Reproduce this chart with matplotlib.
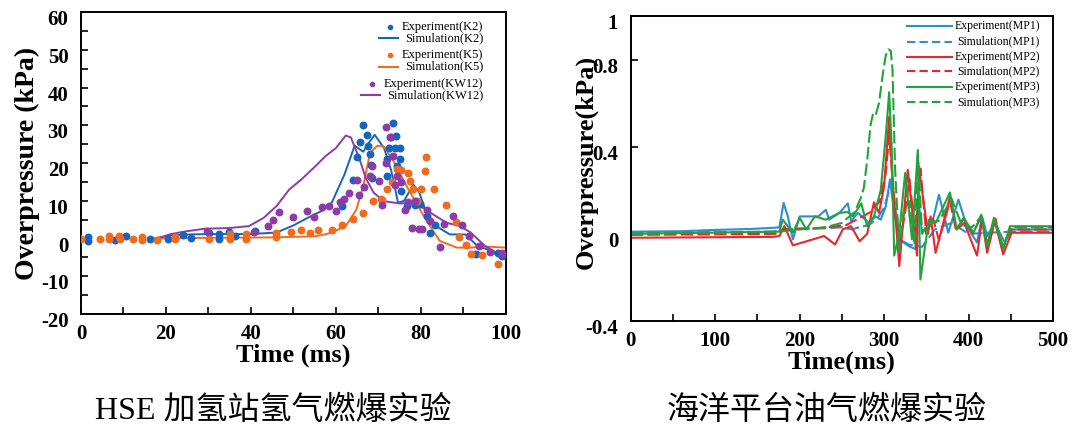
import matplotlib

matplotlib.use("Agg")
import matplotlib.pyplot as plt
from matplotlib.ticker import MultipleLocator
from matplotlib.transforms import ScaledTranslation

plt.rcParams["axes.unicode_minus"] = False

SERIF = "Liberation Serif"
CAPTION_FONTS = ["Liberation Serif", "Noto Sans CJK SC"]

# ---- left panel: HSE hydrogen station ----
k2_exp_t = [1.6, 1.6, 8.1, 10.6, 16.3, 20.5, 24, 25.9, 30.2, 32.4, 32.4, 34.8, 36.3, 40.9,
            61.4, 64, 65, 65.6, 66.3, 67.4, 67.6, 67.9, 68.2, 68.5, 72, 72, 72.5, 73.3,
            72.9, 74.2, 74, 74.4, 75, 75, 75.2, 76.6, 78.6, 79.7, 81.3, 82.2, 83.4, 92.9,
            98.2, 99]
k2_exp_p = [0.5, -0.6, -0.4, 0.7, -0.2, -0.2, 1, 0.2, 1.6, 1.3, 0, 1.8, 0.7, 2,
            8.6, 15.6, 21.6, 25.7, 30.2, 27.5, 24.4, 22.5, 19.6, 16, 16.7, 21, 23.9, 30.7,
            27, 27.2, 24, 19.1, 24, 21, 12.7, 8.6, 8.8, 9.2, 6.1, 1.6, 3.7, -4.2,
            -3.9, -4.6]
k2_sim_t = [17, 22, 30, 40, 46, 50, 54.2, 57, 59, 62, 64.4, 66.4, 67.5, 69.1, 71.3, 73,
            74.6, 76, 78.2, 79.5, 81.5, 84, 86.8, 90.5, 93.3, 96, 98.2, 100]
k2_sim_p = [0, 1, 1.2, 1.2, 1.6, 3.5, 6, 7.5, 9.5, 17, 24.6, 23, 25, 27.5, 24, 18,
            9.5, 10, 14.3, 12.5, 6, 3, 1.1, 1.1, -2, -3, -4.6, -4.5]

k5_exp_t = [0, 4.5, 6.5, 6.5, 9, 9.2, 12.2, 14.3, 14.3, 17.9, 22.2, 22.2, 30.2, 35, 35,
            38.9, 38.9, 46, 46, 49.3, 51.8, 53.8, 55.7, 59, 61.5, 64, 66.4, 68.7, 70.5,
            70.9, 72.1, 73.2, 74.4, 75.2, 77, 77.3, 78.1, 79.1, 79.9, 80.9, 81.1, 83,
            85.8, 88.2, 89, 90.5, 91.7, 94.4, 98.2]
k5_exp_p = [0, -0.2, 0.7, 0, 0.7, -0.2, -0.2, 0.4, -0.4, -0.4, 0, 0.5, 0, 1.1, 0,
            1.3, 0, 1.6, 0.3, 1.8, 2.2, 1.6, 2.2, 2.2, 3.5, 5.1, 6.8, 9.9, 10.5,
            10.1, 13.2, 14.9, 18.4, 18.1, 17.4, 15.2, 13.2, 9.9, 13.2, 17.8, 21.5, 13.2,
            8.9, 4.4, 0.3, -1.8, -4.2, -4.4, -6.8]
k5_sim_t = [18, 30, 45, 55, 57, 59, 62.3, 64.8, 66.4, 68, 69.7, 71.3, 73.8, 76.6, 81.1,
            84.4, 88.4, 91.7, 95, 100]
k5_sim_p = [0, 0.2, 0.3, 0.6, 1.0, 1.6, 3.3, 7.7, 13.9, 22.6, 24.6, 24.4, 20, 13.9, 5.1,
            -0.6, -2.4, -2.4, -2.1, -2.4]

kw12_exp_t = [29.7, 40.8, 43.9, 45.2, 46.7, 50, 53.1, 54.9, 56.6, 58.3, 59.9, 61, 61.8,
              63, 65, 65.3, 66.6, 67.9, 68.5, 70.1, 70.9, 71.7, 71.7, 72.8, 73.3, 73.8,
              74.4, 75.4, 76.2, 77, 77.8, 78.5, 79.5, 80.3, 81.3, 82.1, 84.4, 85.4,
              87.6, 89.6, 91.4, 93.7, 96.2, 99]
kw12_exp_p = [1.9, 1.8, 3.3, 4.9, 7.1, 5.8, 7.3, 5.8, 8.4, 8.6, 7.3, 9.6, 10.4,
              12.1, 15.4, 11.5, 13.6, 16.5, 19.1, 15.2, 8.8, 29.6, 20, 27, 21.8, 14.3,
              16.5, 14.9, 7.5, 9.6, 2.9, 9.9, 2.5, 2.6, 7.5, 4.6, -2.2, 3.8,
              6, 3.7, 0.7, -1.9, -3.5, -3.9]
kw12_sim_t = [18, 20.8, 24, 29, 35, 39.5, 43, 46, 49, 51.8, 55, 57.5, 60, 62.3, 63.5,
              65.6, 67, 68.9, 71.3, 75, 78.6, 82, 86, 89.2, 91.7, 95, 99, 100]
kw12_sim_p = [0, 1.1, 1.8, 2.6, 2.8, 3.3, 5.5, 8.6, 13, 15.6, 19, 21.8, 24, 27.3, 26.8,
              20.9, 16, 12.1, 9.9, 9.3, 9.5, 7, 4.2, 3.3, 1.6, -1.9, -4.6, -4.8]

# ---- right panel: offshore platform ----
mp1_exp_t = [0, 60, 100, 140, 170, 176, 181, 186, 192, 200, 222, 231, 235, 247, 257, 261,
             269, 282, 290, 296, 302, 307, 312, 318, 329, 337, 341, 345, 357, 365, 376,
             388, 398, 410, 416, 422, 431, 443, 451, 500]
mp1_exp_p = [0.01, 0.012, 0.018, 0.022, 0.028, 0.03, 0.142, 0.08, -0.026, 0.08, 0.08, 0.11,
             0.065, 0.096, 0.14, 0.058, 0.096, 0.05, 0.08, 0.065, 0.126, 0.25, 0.096,
             -0.026, -0.056, -0.07, 0.142, 0.005, 0.05, 0.18, 0.005, 0.157, 0.035, -0.04,
             0.08, -0.01, 0.05, -0.04, 0.02, 0.02]
mp1_sim_t = [0, 170, 180, 200, 230, 250, 262, 270, 282, 292, 300, 306, 309, 314, 320, 330,
             345, 360, 380, 400, 450, 500]
mp1_sim_p = [0.005, 0.01, 0.02, 0.025, 0.025, 0.03, 0.02, 0.03, 0.04, 0.07, 0.12, 0.2, 0.24,
             0.1, -0.03, -0.05, -0.06, 0.02, 0.05, 0.0, 0.01, 0.01]

mp2_exp_t = [0, 169, 176, 182, 192, 229, 242, 251, 261, 271, 280, 288, 294, 300, 304, 306,
             310, 318, 328, 339, 341, 352, 355, 361, 378, 386, 395, 410, 416, 422, 431,
             441, 451, 500]
mp2_exp_p = [-0.018, -0.014, -0.01, 0.035, -0.053, -0.01, -0.049, 0.02, 0.035, -0.034, 0.0,
             0.145, 0.096, 0.218, 0.43, 0.537, 0.25, -0.148, 0.294, -0.1, 0.31, 0.0, 0.08,
             -0.087, 0.17, 0.02, 0.05, -0.1, 0.065, -0.087, 0.058, -0.094, 0.005, 0.005]
mp2_sim_t = [0, 175, 180, 220, 255, 270, 284, 295, 302, 306, 309, 313, 318, 325, 330, 337,
             343, 350, 358, 365, 378, 385, 395, 405, 415, 423, 432, 440, 450, 500]
mp2_sim_p = [-0.005, 0.0, 0.02, 0.025, 0.04, 0.07, 0.1, 0.15, 0.28, 0.45, 0.3, 0.1, -0.05,
             0.1, 0.25, 0.0, 0.3, 0.0, 0.07, -0.03, 0.15, 0.02, 0.07, 0.0, 0.08, -0.06,
             0.07, -0.07, 0.02, 0.02]

mp3_exp_t = [0, 176, 180, 192, 200, 208, 218, 231, 247, 257, 263, 273, 280, 288, 296, 302,
             306, 309, 312, 318, 325, 333, 340, 343, 353, 361, 378, 386, 394, 406, 415,
             422, 430, 441, 449, 500]
mp3_exp_p = [0.0, 0.01, 0.065, 0.005, 0.073, 0.02, 0.08, 0.065, 0.096, 0.1, 0.08, 0.14,
             0.035, 0.08, 0.2, 0.45, 0.65, 0.4, -0.1, 0.005, 0.28, -0.025, 0.385, -0.21,
             0.065, 0.05, 0.19, 0.02, 0.073, 0.005, 0.088, -0.056, 0.073, -0.07, 0.035,
             0.035]
mp3_sim_t = [0, 175, 200, 230, 250, 265, 272, 276, 280, 284, 287, 290, 294, 298, 302, 305,
             308, 310, 313, 318, 323, 330, 336, 340, 345, 352, 365, 380, 392, 404, 415,
             422, 431, 441, 450, 500]
mp3_sim_p = [0.0, 0.01, 0.02, 0.03, 0.05, 0.1, 0.16, 0.21, 0.34, 0.5, 0.553, 0.545, 0.6,
             0.72, 0.82, 0.847, 0.84, 0.75, 0.3, -0.08, 0.1, 0.15, -0.05, 0.37, 0.0, 0.05,
             0.06, 0.16, 0.04, 0.03, 0.08, -0.05, 0.07, -0.06, 0.03, 0.03]

right_yticks = [-0.4, 0, 0.4, 0.8, 1.0]
right_yticklabels = ["-0.4", "0", "0.4", "0.8", "1"]

caption_left = "HSE 加氢站氢气燃爆实验"
caption_right = "海洋平台油气燃爆实验"

BLUE_L, ORANGE_L, PURPLE_L = "#1565c0", "#f26b1d", "#8e3ba8"
BLUE_R, RED_R, GREEN_R = "#2b8fd0", "#e8262b", "#22a33a"
DASH = (0, (6, 2))


def style_axes(ax, fig):
    for spine in ax.spines.values():
        spine.set_linewidth(1.4)
    ax.tick_params(which="both", direction="in", length=5, width=1.2,
                   labelsize=15, top=False, right=False)
    ax.tick_params(axis="x", which="both", pad=7)
    ax.tick_params(axis="y", which="both", pad=9)
    # labels in the source sit a few pixels below their ticks
    shift = ScaledTranslation(0, -4 / 72, fig.dpi_scale_trans)
    for lab in ax.get_yticklabels():
        lab.set_transform(lab.get_transform() + shift)
    for lab in ax.get_xticklabels() + ax.get_yticklabels():
        lab.set_fontfamily(SERIF)
        lab.set_fontweight("bold")


def draw_legend(fig, ax, entries, rows_y, text_right, handle, fontsize=9):
    """Legend with right-aligned labels, as in the source figure.

    entries: (label, kind, color, linestyle); kind is "dot" or "line".
    handle: ("follow", gap, length) puts the key just left of its label,
            ("fixed", x0, x1) puts every key in one column.
    """
    renderer = fig.canvas.get_renderer()
    to_axes = ax.transAxes.inverted()
    for (label, kind, color, ls), y in zip(entries, rows_y):
        txt = ax.text(text_right, y, label, transform=ax.transAxes, ha="right",
                      va="center", fontsize=fontsize, family=SERIF)
        if handle[0] == "follow":
            left = txt.get_window_extent(renderer).transformed(to_axes).x0
            x1 = left - handle[1]
            x0 = x1 - handle[2]
        else:
            x0, x1 = handle[1], handle[2]
        if kind == "dot":
            ax.plot([x0 + 0.7 * (x1 - x0)], [y], "o", ms=3, color=color,
                    transform=ax.transAxes, clip_on=False)
        else:
            ax.plot([x0, x1], [y, y], color=color, lw=1.5, ls=ls,
                    transform=ax.transAxes, clip_on=False)


def plot_left(fig, ax):
    ax.scatter(k2_exp_t, k2_exp_p, s=22, color=BLUE_L, zorder=3)
    ax.plot(k2_sim_t, k2_sim_p, color=BLUE_L, lw=1.4)
    ax.scatter(k5_exp_t, k5_exp_p, s=22, color=ORANGE_L, zorder=3)
    ax.plot(k5_sim_t, k5_sim_p, color=ORANGE_L, lw=1.4)
    ax.scatter(kw12_exp_t, kw12_exp_p, s=22, color=PURPLE_L, zorder=3)
    ax.plot(kw12_sim_t, kw12_sim_p, color=PURPLE_L, lw=1.4)

    ax.set_xlim(0, 100)
    ax.set_ylim(-20, 60)
    ax.xaxis.set_major_locator(MultipleLocator(20))
    ax.xaxis.set_minor_locator(MultipleLocator(10))
    ax.yaxis.set_major_locator(MultipleLocator(10))
    ax.yaxis.set_minor_locator(MultipleLocator(5))
    style_axes(ax, fig)

    ax.set_xlabel("Time (ms)", fontfamily=SERIF, fontweight="bold", fontsize=19, labelpad=0)
    ax.set_ylabel("Overpressure (kPa)", fontfamily=SERIF, fontweight="bold", fontsize=20)
    ax.yaxis.set_label_coords(-0.097, 0.5)

    entries = [
        ("Experiment(K2)", "dot", BLUE_L, "-"),
        ("Simulation(K2)", "line", BLUE_L, "-"),
        ("Experiment(K5)", "dot", ORANGE_L, "-"),
        ("Simulation(K5)", "line", ORANGE_L, "-"),
        ("Experiment(KW12)", "dot", PURPLE_L, "-"),
        ("Simulation(KW12)", "line", PURPLE_L, "-"),
    ]
    rows_y = [0.951, 0.913, 0.858, 0.819, 0.762, 0.725]
    draw_legend(fig, ax, entries, rows_y, 0.946, ("follow", 0.015, 0.045))


def plot_right(fig, ax):
    ax.plot(mp1_exp_t, mp1_exp_p, color=BLUE_R, lw=1.5)
    ax.plot(mp1_sim_t, mp1_sim_p, color=BLUE_R, lw=1.5, ls=DASH)
    ax.plot(mp2_exp_t, mp2_exp_p, color=RED_R, lw=1.5)
    ax.plot(mp2_sim_t, mp2_sim_p, color=RED_R, lw=1.5, ls=DASH)
    ax.plot(mp3_exp_t, mp3_exp_p, color=GREEN_R, lw=1.5)
    ax.plot(mp3_sim_t, mp3_sim_p, color=GREEN_R, lw=1.5, ls=DASH)

    ax.set_xlim(0, 500)
    ax.set_ylim(-0.4, 1.0)
    ax.xaxis.set_major_locator(MultipleLocator(100))
    ax.xaxis.set_minor_locator(MultipleLocator(50))
    ax.set_yticks(right_yticks)
    ax.set_yticklabels(right_yticklabels)
    style_axes(ax, fig)

    ax.set_xlabel("Time(ms)", fontfamily=SERIF, fontweight="bold", fontsize=19, labelpad=0)
    ax.set_ylabel("Overpressure(kPa)", fontfamily=SERIF, fontweight="bold", fontsize=19)
    ax.yaxis.set_label_coords(-0.078, 0.52)

    entries = [
        ("Experiment(MP1)", "line", BLUE_R, "-"),
        ("Simulation(MP1)", "line", BLUE_R, (0, (4, 2))),
        ("Experiment(MP2)", "line", RED_R, "-"),
        ("Simulation(MP2)", "line", RED_R, (0, (4, 2))),
        ("Experiment(MP3)", "line", GREEN_R, "-"),
        ("Simulation(MP3)", "line", GREEN_R, (0, (4, 2))),
    ]
    rows_y = [0.967, 0.916, 0.866, 0.818, 0.767, 0.718]
    draw_legend(fig, ax, entries, rows_y, 0.969, ("fixed", 0.654, 0.761), fontsize=8.5)


def main() -> int:
    fig = plt.figure(figsize=(10.8, 4.32), dpi=100)
    ax_l = fig.add_axes([0.075, 0.273, 0.3935, 0.699])
    ax_r = fig.add_axes([0.584, 0.257, 0.391, 0.706])

    plot_left(fig, ax_l)
    plot_right(fig, ax_r)

    fig.text(0.253, 0.05, caption_left, ha="center", va="center", fontsize=23,
             family=CAPTION_FONTS)
    fig.text(0.765, 0.05, caption_right, ha="center", va="center", fontsize=23,
             family=CAPTION_FONTS)

    fig.savefig("out.png", dpi=100)
    plt.close(fig)
    return 0


if __name__ == "__main__":
    raise SystemExit(main())
